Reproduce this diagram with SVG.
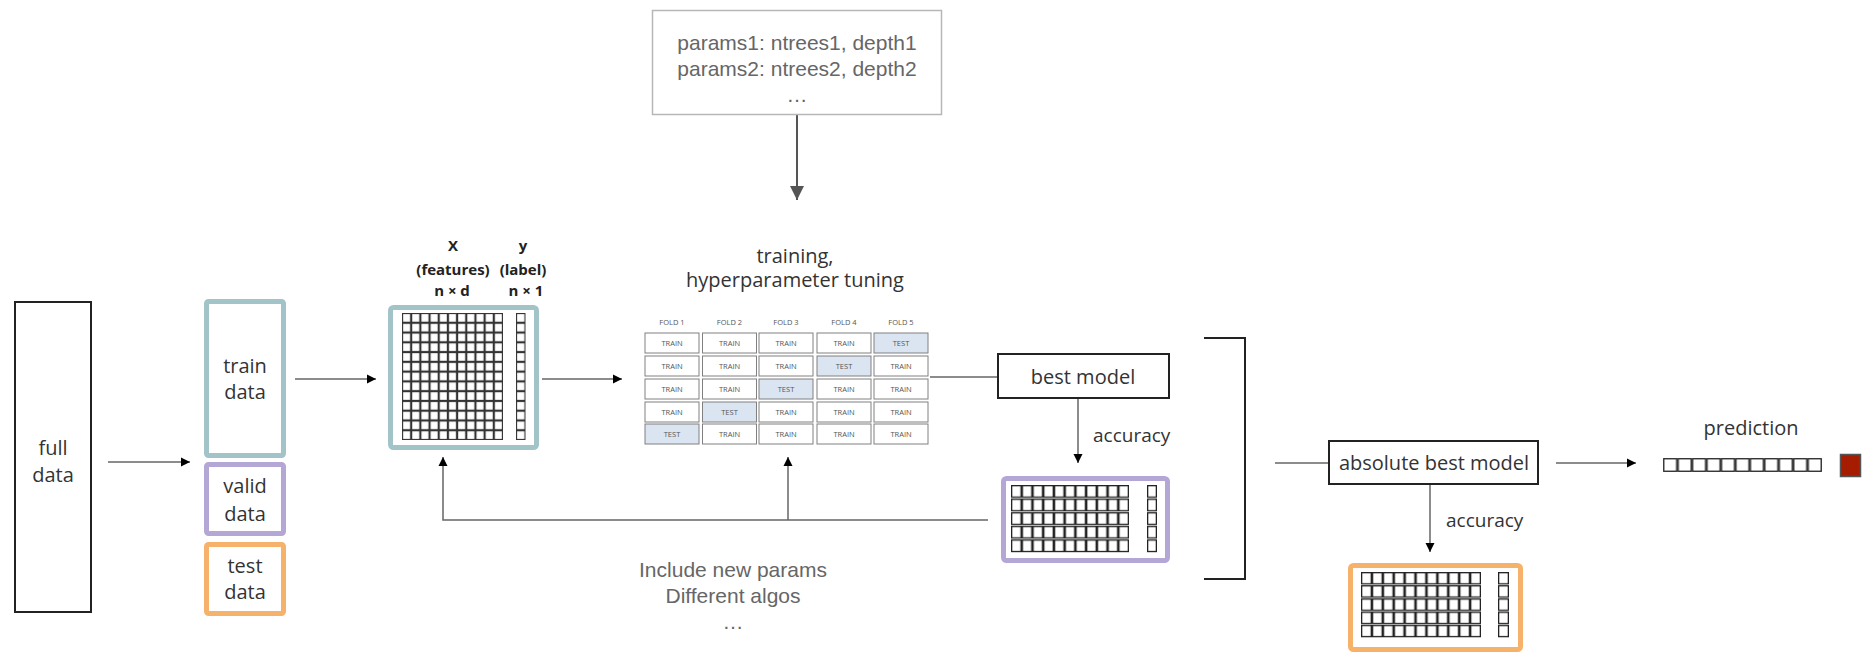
<svg xmlns="http://www.w3.org/2000/svg" width="1869" height="667" viewBox="0 0 1869 667">
<style>
.lbl{font-family:"Open Sans","Liberation Sans",sans-serif;font-size:20px;fill:#333;text-anchor:middle}
.acc{font-family:"Open Sans","Liberation Sans",sans-serif;font-size:19px;fill:#333}
.gray{font-family:"Liberation Sans",Arial,sans-serif;font-size:21px;fill:#666;text-anchor:middle}
.hdr{font-family:"Open Sans","Liberation Sans",sans-serif;font-size:15px;font-weight:bold;fill:#222;text-anchor:middle}
.fold{font-family:"Open Sans","Liberation Sans",sans-serif;font-size:7.5px;fill:#555;text-anchor:middle}
.cell{fill:#fff;stroke:#808080;stroke-width:1}
.tcell{fill:#dbe5f1;stroke:#808080;stroke-width:1}
.conn{stroke:#666;stroke-width:1.5;fill:none}
.grid{stroke:#222;stroke-width:1.3;fill:#fff}
.gridm{stroke:#333;stroke-width:1.1;fill:#fff}
</style>
<defs>
<marker id="ah" viewBox="0 0 10 10" refX="10" refY="5" markerWidth="9" markerHeight="10" markerUnits="userSpaceOnUse" orient="auto"><path d="M0,0 L10,5 L0,10 Z" fill="#000"/></marker>
<marker id="ahbig" viewBox="0 0 10 10" refX="10" refY="5" markerWidth="18" markerHeight="14" markerUnits="userSpaceOnUse" orient="auto"><path d="M0,0 L10,5 L0,10 Z" fill="#555"/></marker>
<pattern id="pM" patternUnits="userSpaceOnUse" x="402" y="313" width="9.18" height="9.77"><rect class="gridm" x="0.55" y="0.55" width="8.08" height="8.67"/></pattern>
<pattern id="pMl" patternUnits="userSpaceOnUse" x="516" y="313" width="9.5" height="9.77"><rect class="gridm" x="0.55" y="0.55" width="8.4" height="8.67"/></pattern>
<pattern id="pV" patternUnits="userSpaceOnUse" x="1011" y="485" width="10.73" height="13.6"><rect class="grid" x="0.65" y="0.65" width="9.43" height="11.5"/></pattern>
<pattern id="pVl" patternUnits="userSpaceOnUse" x="1147" y="485" width="10" height="13.6"><rect class="grid" x="0.65" y="0.65" width="8.7" height="11.5"/></pattern>
<pattern id="pT" patternUnits="userSpaceOnUse" x="1361" y="572" width="10.91" height="13.2"><rect class="grid" x="0.65" y="0.65" width="9.61" height="11.2"/></pattern>
<pattern id="pTl" patternUnits="userSpaceOnUse" x="1498" y="572" width="11" height="13.2"><rect class="grid" x="0.65" y="0.65" width="9.7" height="11.2"/></pattern>
<pattern id="pP" patternUnits="userSpaceOnUse" x="1663" y="458" width="14.45" height="14"><rect class="grid" x="0.75" y="0.75" width="12.95" height="12.5" stroke-width="1.5"/></pattern>
</defs>
<rect width="1869" height="667" fill="#fff"/>

<g id="connectors">
<line class="conn" x1="108" y1="462" x2="190" y2="462" marker-end="url(#ah)"/>
<line class="conn" x1="295" y1="379" x2="376" y2="379" marker-end="url(#ah)"/>
<line class="conn" x1="542" y1="379" x2="622" y2="379" marker-end="url(#ah)"/>
<line x1="797" y1="115" x2="797" y2="200" stroke="#555" stroke-width="2" marker-end="url(#ahbig)"/>
<line class="conn" x1="930" y1="377" x2="998" y2="377"/>
<line class="conn" x1="1078" y1="399" x2="1078" y2="463" marker-end="url(#ah)"/>
<path class="conn" d="M988,520 L443,520 L443,457" marker-end="url(#ah)"/>
<line class="conn" x1="788" y1="520" x2="788" y2="457" marker-end="url(#ah)"/>
<path d="M1204,338 L1245,338 L1245,579 L1204,579" fill="none" stroke="#222" stroke-width="2"/>
<line class="conn" x1="1275" y1="463" x2="1329" y2="463"/>
<line class="conn" x1="1430" y1="485" x2="1430" y2="552" marker-end="url(#ah)"/>
<line class="conn" x1="1556" y1="463" x2="1636" y2="463" marker-end="url(#ah)"/>
</g>

<g id="full-data">
<rect x="15" y="302" width="76" height="310" fill="#fff" stroke="#222" stroke-width="2"/>
<text class="lbl" x="53" y="455">full</text>
<text class="lbl" x="53" y="482">data</text>
</g>

<g id="train-data">
<rect x="206.5" y="301.5" width="77" height="154" rx="2" fill="#fff" stroke="#a2c4c9" stroke-width="5"/>
<text class="lbl" x="245" y="373">train</text>
<text class="lbl" x="245" y="399">data</text>
</g>

<g id="valid-data">
<rect x="206.5" y="464.5" width="77" height="69" rx="2" fill="#fff" stroke="#b4a7d6" stroke-width="5"/>
<text class="lbl" x="245" y="493">valid</text>
<text class="lbl" x="245" y="521">data</text>
</g>

<g id="test-data">
<rect x="206.5" y="544.5" width="77" height="69" rx="2" fill="#fff" stroke="#f6b26b" stroke-width="5"/>
<text class="lbl" x="245" y="573">test</text>
<text class="lbl" x="245" y="599">data</text>
</g>

<g id="train-matrix">
<text class="hdr" x="453" y="251">X</text>
<text class="hdr" x="523" y="251">y</text>
<text class="hdr" x="453" y="275">(features)</text>
<text class="hdr" x="523" y="275">(label)</text>
<text class="hdr" x="452" y="296">n × d</text>
<text class="hdr" x="526" y="296">n × 1</text>
<rect x="390.5" y="307.5" width="146" height="140" rx="3" fill="#fff" stroke="#a2c4c9" stroke-width="5"/>
<rect x="402" y="313" width="101" height="127" fill="url(#pM)"/>
<rect x="516" y="313" width="9.5" height="127" fill="url(#pMl)"/>
</g>

<g id="params">
<rect x="652.5" y="10.5" width="289" height="104" fill="#fff" stroke="#b7b7b7" stroke-width="1.5"/>
<text class="gray" x="797" y="50">params1: ntrees1, depth1</text>
<text class="gray" x="797" y="76">params2: ntrees2, depth2</text>
<text class="gray" x="797" y="102">…</text>
</g>

<g id="cv-table">
<text class="lbl" x="795" y="263" font-size="19">training,</text>
<text class="lbl" x="795" y="287" font-size="19">hyperparameter tuning</text>
<text class="fold" x="672" y="325">FOLD 1</text>
<text class="fold" x="729.5" y="325">FOLD 2</text>
<text class="fold" x="786" y="325">FOLD 3</text>
<text class="fold" x="844" y="325">FOLD 4</text>
<text class="fold" x="901" y="325">FOLD 5</text>
<rect class="cell" x="645" y="333" width="54" height="20"/><rect class="cell" x="702.5" y="333" width="54" height="20"/><rect class="cell" x="759" y="333" width="54" height="20"/><rect class="cell" x="817" y="333" width="54" height="20"/><rect class="tcell" x="874" y="333" width="54" height="20"/>
<rect class="cell" x="645" y="356" width="54" height="20"/><rect class="cell" x="702.5" y="356" width="54" height="20"/><rect class="cell" x="759" y="356" width="54" height="20"/><rect class="tcell" x="817" y="356" width="54" height="20"/><rect class="cell" x="874" y="356" width="54" height="20"/>
<rect class="cell" x="645" y="379" width="54" height="20"/><rect class="cell" x="702.5" y="379" width="54" height="20"/><rect class="tcell" x="759" y="379" width="54" height="20"/><rect class="cell" x="817" y="379" width="54" height="20"/><rect class="cell" x="874" y="379" width="54" height="20"/>
<rect class="cell" x="645" y="402" width="54" height="20"/><rect class="tcell" x="702.5" y="402" width="54" height="20"/><rect class="cell" x="759" y="402" width="54" height="20"/><rect class="cell" x="817" y="402" width="54" height="20"/><rect class="cell" x="874" y="402" width="54" height="20"/>
<rect class="tcell" x="645" y="424" width="54" height="20"/><rect class="cell" x="702.5" y="424" width="54" height="20"/><rect class="cell" x="759" y="424" width="54" height="20"/><rect class="cell" x="817" y="424" width="54" height="20"/><rect class="cell" x="874" y="424" width="54" height="20"/>
<text class="fold" x="672" y="346">TRAIN</text><text class="fold" x="729.5" y="346">TRAIN</text><text class="fold" x="786" y="346">TRAIN</text><text class="fold" x="844" y="346">TRAIN</text><text class="fold" x="901" y="346">TEST</text>
<text class="fold" x="672" y="369">TRAIN</text><text class="fold" x="729.5" y="369">TRAIN</text><text class="fold" x="786" y="369">TRAIN</text><text class="fold" x="844" y="369">TEST</text><text class="fold" x="901" y="369">TRAIN</text>
<text class="fold" x="672" y="392">TRAIN</text><text class="fold" x="729.5" y="392">TRAIN</text><text class="fold" x="786" y="392">TEST</text><text class="fold" x="844" y="392">TRAIN</text><text class="fold" x="901" y="392">TRAIN</text>
<text class="fold" x="672" y="415">TRAIN</text><text class="fold" x="729.5" y="415">TEST</text><text class="fold" x="786" y="415">TRAIN</text><text class="fold" x="844" y="415">TRAIN</text><text class="fold" x="901" y="415">TRAIN</text>
<text class="fold" x="672" y="437">TEST</text><text class="fold" x="729.5" y="437">TRAIN</text><text class="fold" x="786" y="437">TRAIN</text><text class="fold" x="844" y="437">TRAIN</text><text class="fold" x="901" y="437">TRAIN</text>
</g>

<g id="loop-note">
<text class="gray" x="733" y="577">Include new params</text>
<text class="gray" x="733" y="603">Different algos</text>
<text class="gray" x="733" y="629">…</text>
</g>

<g id="best-model">
<rect x="998" y="354" width="171" height="44" fill="#fff" stroke="#222" stroke-width="2"/>
<text class="lbl" x="1083" y="384">best model</text>
<text class="acc" x="1093" y="442">accuracy</text>
</g>

<g id="valid-matrix">
<rect x="1003.5" y="478.5" width="164" height="82" rx="3" fill="#fff" stroke="#b4a7d6" stroke-width="5"/>
<rect x="1011" y="485" width="118" height="68" fill="url(#pV)"/>
<rect x="1147" y="485" width="10" height="68" fill="url(#pVl)"/>
</g>

<g id="absolute-best-model">
<rect x="1329" y="441" width="209" height="43" fill="#fff" stroke="#222" stroke-width="2"/>
<text class="lbl" x="1434" y="470">absolute best model</text>
<text class="acc" x="1446" y="527">accuracy</text>
</g>

<g id="test-matrix">
<rect x="1350.5" y="565.5" width="170" height="84" rx="3" fill="#fff" stroke="#f6b26b" stroke-width="5"/>
<rect x="1361" y="572" width="120" height="66" fill="url(#pT)"/>
<rect x="1498" y="572" width="11" height="66" fill="url(#pTl)"/>
</g>

<g id="prediction">
<text class="lbl" x="1751" y="435">prediction</text>
<rect x="1663" y="458" width="159" height="14" fill="url(#pP)"/>
<rect x="1840.5" y="454.5" width="20" height="22" fill="#a61c00" stroke="#555" stroke-width="1.5"/>
</g>
</svg>
